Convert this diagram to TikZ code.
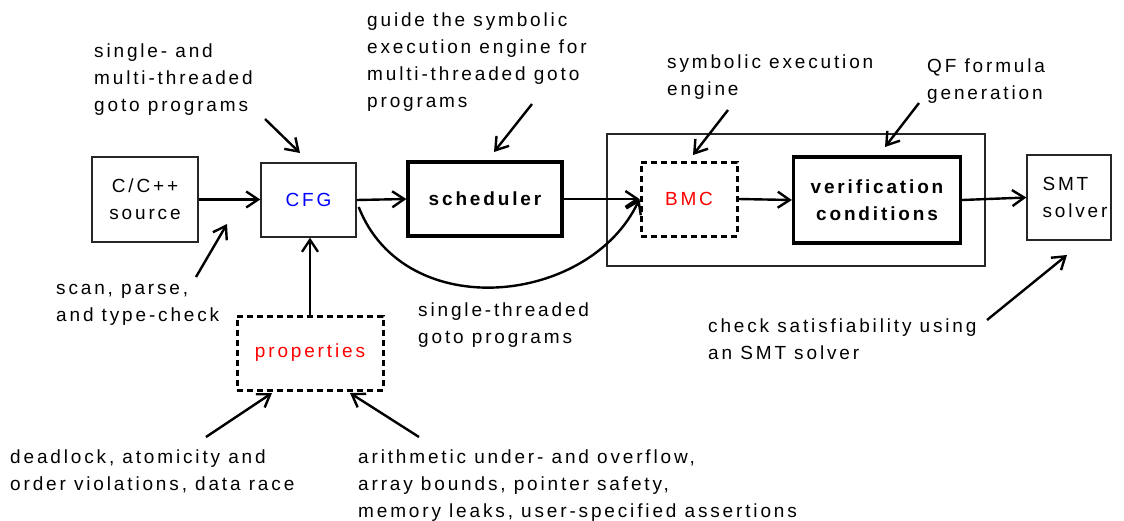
\documentclass[tikz,border=0pt]{standalone}
\usepackage{fontspec}
\setmainfont{Liberation Sans}[LetterSpace=15]
\usetikzlibrary{arrows.meta}

\begin{document}
\begin{tikzpicture}[
  x=1pt, y=-1pt,
  font=\fontsize{19}{27}\selectfont,
  thinbox/.style={draw=black!85, line width=1.3pt, inner sep=0pt, align=center},
  thickbox/.style={draw=black, line width=3.2pt, inner sep=0pt, align=center, font=\fontsize{19}{27}\selectfont\bfseries},
  dashbox/.style={draw=black, line width=3pt, dash pattern=on 6pt off 4pt, inner sep=0pt, align=center},
  note/.style={anchor=base west, inner sep=0pt, align=left},
  flow/.style={line width=2.4pt, -{Straight Barb[length=12pt, width=16pt, line width=2.4pt]}},
]
\useasboundingbox (0,0) rectangle (1124,520);

% main tool chain
\node[thinbox, minimum width=106pt, minimum height=85pt] (src) at (145,199.5) {C/C++\\source};
\node[thinbox, minimum width=95pt, minimum height=74pt, text=blue] (cfg) at (308.5,200) {CFG};
\node[thickbox, minimum width=154pt, minimum height=74pt] (sched) at (485,199) {scheduler};
\node[thinbox, minimum width=378pt, minimum height=132pt] (stage) at (796,200) {};
\node[dashbox, minimum width=96pt, minimum height=74pt, text=red] (bmc) at (689,199) {BMC};
\node[thickbox, minimum width=167pt, minimum height=86pt] (vc) at (877,200) {verification\\conditions};
\node[thinbox, minimum width=84pt, minimum height=85pt, align=left] (smt) at (1069,197.5) {\hspace*{12pt}SMT\\\hspace*{12pt}solver};
\node[dashbox, minimum width=146pt, minimum height=74pt, text=red] (props) at (310,353) {properties};

\draw[flow] (src.east) -- (cfg.west |- src.east);
\draw[flow] (cfg.east) -- (sched.west);
\draw[flow] (sched.east) -- (bmc.west);
\draw[flow] (bmc.east) -- (vc.west);
\draw[flow] (vc.east) -- (smt.west);
\draw[flow] (props.north) -- (props.north |- cfg.south);
\draw[flow] ([xshift=2pt,yshift=-7pt]cfg.east) .. controls (405,325) and (590,305) .. (bmc.west);

% annotations (each placed by the baseline of its last line)
\node[note] (nGoto) at (94,111) {single- and\\multi-threaded\\goto programs};
\node[note] (nGuide) at (367,107) {guide the symbolic\\execution engine for\\multi-threaded goto\\programs};
\node[note] (nEngine) at (667,95) {symbolic execution\\engine};
\node[note] (nQF) at (927,99) {QF formula\\generation};
\node[note] (nScan) at (56,321) {scan, parse,\\and type-check};
\node[note] (nSingle) at (418,343) {single-threaded\\goto programs};
\node[note] (nCheck) at (708,359) {check satisfiability using\\an SMT solver};
\node[note] (nDead) at (10,490) {deadlock, atomicity and\\order violations, data race};
\node[note] (nArith) at (358,517) {arithmetic under- and overflow,\\array bounds, pointer safety,\\memory leaks, user-specified assertions};

% annotation pointers
\coordinate (gotoA) at (265,119);   \coordinate (gotoB) at (300,153);
\coordinate (scanA) at (196,277);   \coordinate (scanB) at (227,224);
\coordinate (guideA) at (532,104);  \coordinate (guideB) at (494,152);
\coordinate (engA) at (728,110);    \coordinate (engB) at (693,155);
\coordinate (qfA) at (919,103);     \coordinate (qfB) at (885,147);
\coordinate (chkA) at (987,320);    \coordinate (chkB) at (1067,255);
\coordinate (deadA) at (206,437);   \coordinate (deadB) at (272,393);
\coordinate (arA) at (419,437);     \coordinate (arB) at (350,393);

\draw[flow] (gotoA) -- (gotoB);
\draw[flow] (scanA) -- (scanB);
\draw[flow] (guideA) -- (guideB);
\draw[flow] (engA) -- (engB);
\draw[flow] (qfA) -- (qfB);
\draw[flow] (chkA) -- (chkB);
\draw[flow] (deadA) -- (deadB);
\draw[flow] (arA) -- (arB);
\end{tikzpicture}
\end{document}
